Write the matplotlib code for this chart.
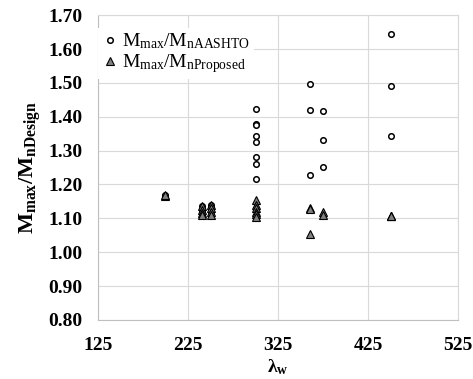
import numpy as np
import matplotlib.pyplot as plt

# Fonturi tip Times (Liberation Serif)
plt.rcParams['font.family'] = 'Liberation Serif'
plt.rcParams['mathtext.fontset'] = 'custom'
plt.rcParams['mathtext.rm'] = 'Liberation Serif'
plt.rcParams['mathtext.it'] = 'Liberation Serif:italic'
plt.rcParams['mathtext.bf'] = 'Liberation Serif:bold'

# Date
lam_aashto = [200, 200,
              240, 240, 240, 240,
              250, 250, 250, 250,
              300, 300, 300, 300, 300, 300, 300, 300,
              360, 360, 360,
              375, 375, 375,
              450, 450, 450]
r_aashto = [1.165, 1.170,
            1.135, 1.125, 1.115, 1.110,
            1.140, 1.130, 1.120, 1.110,
            1.423, 1.380, 1.375, 1.342, 1.324, 1.280, 1.259, 1.217,
            1.498, 1.420, 1.229,
            1.416, 1.332, 1.251,
            1.643, 1.491, 1.344]

lam_prop = [200, 200,
            240, 240, 240, 240,
            250, 250, 250, 250,
            300, 300, 300, 300, 300, 300,
            360, 360, 360,
            375, 375,
            450, 450, 450]
r_prop = [1.165, 1.170,
          1.135, 1.125, 1.115, 1.110,
          1.140, 1.130, 1.120, 1.110,
          1.155, 1.140, 1.130, 1.120, 1.113, 1.105,
          1.130, 1.128, 1.055,
          1.118, 1.110,
          1.107, 1.107, 1.107]

x_ticks = [125, 225, 325, 425, 525]
y_ticks = [0.80, 0.90, 1.00, 1.10, 1.20, 1.30, 1.40, 1.50, 1.60, 1.70]

fig = plt.figure(figsize=(4.73, 3.79), dpi=100)
ax = fig.add_axes([0.207, 0.156, 0.762, 0.804])

ax.plot(lam_aashto, r_aashto, linestyle='none', marker='o', markersize=4,
        markerfacecolor='white', markeredgecolor='black', markeredgewidth=1.1,
        label=r'M$_{\mathrm{max}}$/M$_{\mathrm{nAASHTO}}$', zorder=3)
ax.plot(lam_prop, r_prop, linestyle='none', marker='^', markersize=6,
        markerfacecolor='#808080', markeredgecolor='black', markeredgewidth=0.8,
        label=r'M$_{\mathrm{max}}$/M$_{\mathrm{nProposed}}$', zorder=4)

ax.set_xlim(125, 525)
ax.set_ylim(0.80, 1.70)
ax.set_xticks(x_ticks)
ax.set_yticks(y_ticks)
ax.set_yticklabels(['%.2f' % v for v in y_ticks])
ax.tick_params(length=0, labelsize=14)
ax.tick_params(axis='x', pad=12)
ax.tick_params(axis='y', pad=11)
for lbl in ax.get_xticklabels() + ax.get_yticklabels():
    lbl.set_fontweight('bold')

ax.grid(color='#d9d9d9', linewidth=0.8, zorder=0)
ax.set_axisbelow(True)
for s in ['top', 'right']:
    ax.spines[s].set_color('#d9d9d9')
    ax.spines[s].set_linewidth(0.8)
for s in ['bottom', 'left']:
    ax.spines[s].set_color('#bfbfbf')
    ax.spines[s].set_linewidth(0.8)

ax.set_xlabel(r'λ$_{\mathbf{w}}$', fontsize=14, fontweight='bold', labelpad=3)
ax.set_ylabel(r'M$_{\mathbf{max}}$/M$_{\mathbf{nDesign}}$', fontsize=16,
              fontweight='bold', labelpad=4)

leg = ax.legend(loc='center left', bbox_to_anchor=(0.0, 0.875), fontsize=14,
                frameon=True, fancybox=False, edgecolor='none', framealpha=1,
                handletextpad=0.25, handlelength=0.8, borderpad=0.2,
                labelspacing=0.05, borderaxespad=0.0)

plt.savefig('out.png', dpi=100)
